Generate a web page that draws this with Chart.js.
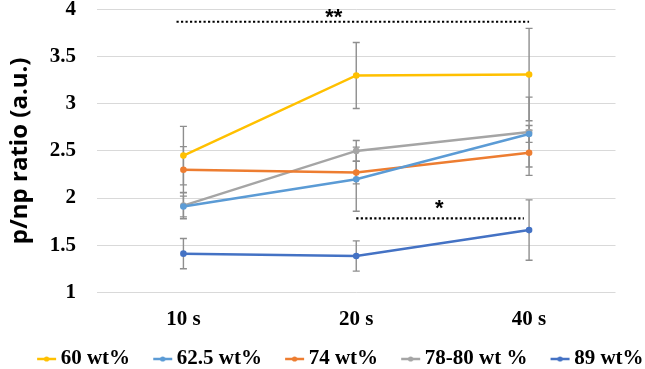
<!DOCTYPE html>
<html><head><meta charset="utf-8">
<script src="https://cdn.jsdelivr.net/npm/chart.js@4"></script>
<style>html,body{margin:0;padding:0;background:#fff}#c{display:block}</style>
</head><body>
<canvas id="c" width="645" height="369"></canvas>
<script>
// ---- data ----
const categories = ['10 s', '20 s', '40 s'];
const seriesNames = ['60 wt%', '62.5 wt%', '74 wt%', '78-80 wt %', '89 wt%'];
const seriesColors = ['#FFC000', '#5B9BD5', '#ED7D31', '#A5A5A5', '#4472C4'];
const values60 = [2.45, 3.30, 3.31];
const values625 = [1.91, 2.20, 2.68];
const values74 = [2.30, 2.27, 2.48];
const values7880 = [1.92, 2.50, 2.70];
const values89 = [1.41, 1.385, 1.66];
const errors60 = [0.31, 0.35, 0.49];
const errors625 = [0.11, 0.34, 0.09];
const errors74 = [0.245, 0.12, 0.24];
const errors7880 = [0.14, 0.11, 0.37];
const errors89 = [0.16, 0.16, 0.32];
const yMin = 1, yMax = 4, yStep = 0.5;
const yTitle = 'p/np ratio (a.u.)';
// significance brackets (category index units / value units)
const sigLabels = ['**', '*'];
const sigLevels = [3.87, 1.785];
const sigStart = [-0.04, 1];
const sigEnd = [2, 1.97];
const sigTextX = [0.87, 1.48];
const sigTextY = [3.955, 1.93];

const seriesValues = [values60, values625, values74, values7880, values89];
const seriesErrors = [errors60, errors625, errors74, errors7880, errors89];

// legend markers (line with dot)
function makeMarker(color) {
  const c = document.createElement('canvas');
  c.width = 50; c.height = 12;
  const g = c.getContext('2d');
  g.strokeStyle = color; g.lineWidth = 2.5;
  g.beginPath(); g.moveTo(30, 6); g.lineTo(49, 6); g.stroke();
  g.fillStyle = color; g.beginPath(); g.arc(39.5, 6, 2.6, 0, Math.PI * 2); g.fill();
  return c;
}
const markers = seriesColors.map(makeMarker);

const errorBarPlugin = {
  id: 'errorBars',
  beforeDatasetsDraw(chart) {
    const ctx = chart.ctx, y = chart.scales.y;
    ctx.save();
    ctx.strokeStyle = '#8E8E8E';
    ctx.lineWidth = 1.4;
    chart.data.datasets.forEach((ds, di) => {
      const meta = chart.getDatasetMeta(di);
      meta.data.forEach((pt, i) => {
        const v = ds.data[i], e = seriesErrors[di][i];
        const yt = y.getPixelForValue(v + e), yb = y.getPixelForValue(v - e);
        ctx.beginPath();
        ctx.moveTo(pt.x, yt); ctx.lineTo(pt.x, yb);
        ctx.moveTo(pt.x - 3.5, yt); ctx.lineTo(pt.x + 3.5, yt);
        ctx.moveTo(pt.x - 3.5, yb); ctx.lineTo(pt.x + 3.5, yb);
        ctx.stroke();
      });
    });
    ctx.restore();
  }
};

const sigPlugin = {
  id: 'sig',
  afterDatasetsDraw(chart) {
    const ctx = chart.ctx, x = chart.scales.x, y = chart.scales.y;
    ctx.save();
    sigLabels.forEach((lab, i) => {
      const py = y.getPixelForValue(sigLevels[i]);
      ctx.strokeStyle = '#000';
      ctx.lineWidth = 2.2;
      ctx.setLineDash([2.2, 2.3]);
      ctx.beginPath();
      ctx.moveTo(x.getPixelForValue(sigStart[i]), py);
      ctx.lineTo(x.getPixelForValue(sigEnd[i]), py);
      ctx.stroke();
      ctx.setLineDash([]);
      ctx.fillStyle = '#000';
      ctx.font = 'bold 22px "Liberation Sans", Arial, sans-serif';
      ctx.textAlign = 'center';
      ctx.textBaseline = 'middle';
      ctx.fillText(lab, x.getPixelForValue(sigTextX[i]), y.getPixelForValue(sigTextY[i]) + 4);
    });
    ctx.restore();
  }
};

const serif = '"Liberation Serif", "Times New Roman", serif';

new Chart(document.getElementById('c'), {
  type: 'line',
  data: {
    labels: categories,
    datasets: seriesNames.map((n, i) => ({
      label: n,
      data: seriesValues[i],
      borderColor: seriesColors[i],
      backgroundColor: seriesColors[i],
      pointBackgroundColor: seriesColors[i],
      pointBorderColor: seriesColors[i],
      borderWidth: 2.5,
      pointRadius: 3.3,
      pointBorderWidth: 0,
      tension: 0,
      yAxisID: 'y'
    }))
  },
  options: {
    responsive: false,
    animation: false,
    devicePixelRatio: 1,
    layout: { padding: { left: 14, right: 0, top: 9.5, bottom: -10.5 } },
    plugins: {
      tooltip: { enabled: false },
      legend: {
        position: 'bottom',
        align: 'start',
        labels: {
          usePointStyle: true,
          pointStyleWidth: 36.2,
          padding: 0,
          color: '#000',
          font: { family: serif, size: 21, weight: 'bold' },
          generateLabels(chart) {
            const items = Chart.defaults.plugins.legend.labels.generateLabels(chart);
            items.forEach((it, i) => { it.pointStyle = markers[i]; });
            return items;
          }
        }
      }
    },
    scales: {
      x: {
        type: 'category',
        offset: true,
        grid: { display: false, drawTicks: false },
        border: { display: false },
        ticks: { color: '#000', padding: 15, font: { family: serif, size: 21, weight: 'bold' } },
        afterFit(s) { s.height = 56.2; s.paddingLeft = 0; s.paddingRight = 0; }
      },
      y: {
        type: 'linear',
        position: 'left',
        min: yMin, max: yMax,
        ticks: {
          stepSize: yStep, color: '#000', padding: 21,
          font: { family: serif, size: 21, weight: 'bold' },
          callback: (v) => String(v)
        },
        grid: { color: '#D9D9D9', lineWidth: 1, drawTicks: false },
        border: { display: false },
        title: {
          display: true,
          text: yTitle,
          color: '#000',
          padding: { top: -8.4, bottom: 0 },
          font: { family: '"Open Sans", sans-serif', size: 24, weight: 'bold' }
        },
        afterFit(s) { s.width = 83; s.paddingTop = 0; s.paddingBottom = 0; }
      },
      yR: {
        type: 'linear',
        position: 'right',
        display: true,
        ticks: { display: false },
        grid: { display: false, drawTicks: false },
        border: { display: false },
        afterFit(s) { s.width = 29.5; s.paddingTop = 0; s.paddingBottom = 0; }
      }
    }
  },
  plugins: [errorBarPlugin, sigPlugin]
});
</script>
</body></html>
